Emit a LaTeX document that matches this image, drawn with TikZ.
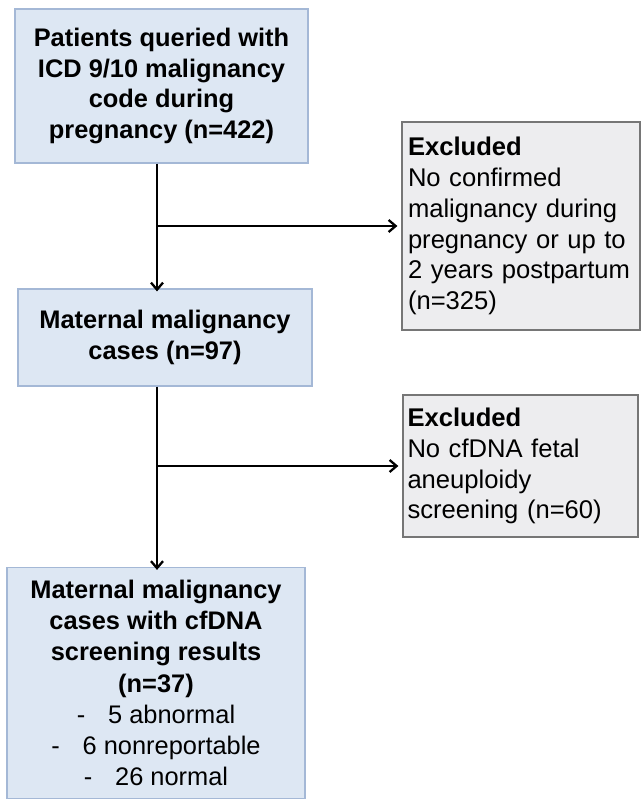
\documentclass[tikz,border=0pt]{standalone}
\usepackage{fontspec}
\setmainfont{Liberation Sans}
\usetikzlibrary{arrows.meta}
\definecolor{boxblue}{RGB}{221,231,243}
\definecolor{edgeblue}{RGB}{164,184,214}
\definecolor{boxgray}{RGB}{237,237,239}
\definecolor{edgegray}{RGB}{118,118,118}
\tikzset{
  stagebox/.style={draw=edgeblue, fill=boxblue, line width=1.2pt, inner sep=0pt,
    align=center, font=\fontsize{25.4}{30.8}\selectfont\bfseries},
  exclbox/.style={draw=edgegray, fill=boxgray, line width=1.2pt, inner sep=0pt,
    align=left, text width=226pt, font=\fontsize{25.6}{30.8}\selectfont},
  flow/.style={line width=2.3pt, -{Straight Barb[length=7pt,width=12pt,line width=2.3pt]}},
}
\begin{document}
\begin{tikzpicture}[x=1pt, y=-1pt]
\useasboundingbox (0,0) rectangle (642,800);
\fill[white] (0,0) rectangle (642,800);

% main stages
\node[stagebox, minimum width=293pt, minimum height=154pt] (query) at (161.5,86)
  {Patients queried with\\ICD 9/10 malignancy\\code during\\pregnancy (n=422)};
\node[stagebox, minimum width=294pt, minimum height=97pt] (cases) at (165,337.5)
  {Maternal malignancy\\cases (n=97)};
\node[stagebox, minimum width=298pt, minimum height=231pt,
      font=\fontsize{25.4}{31.2}\selectfont\bfseries] (results) at (156,683)
  {Maternal malignancy\\cases with cfDNA\\screening results\\(n=37)\\
   {\mdseries -\hspace{0.9em}5 abnormal}\\
   {\mdseries -\hspace{0.9em}6 nonreportable}\\
   {\mdseries -\hspace{0.9em}26 normal}};

% exclusions
\node[exclbox, minimum width=238pt, minimum height=208pt] (excl1) at (521,226)
  {\textbf{Excluded}\\No confirmed\\malignancy during\\pregnancy or up to\\2 years postpartum\\(n=325)};
\node[exclbox, minimum width=235pt, minimum height=142pt] (excl2) at (520.5,466)
  {\textbf{Excluded}\\No cfDNA fetal\\aneuploidy\\screening (n=60)};

% trunk line positions
\coordinate (trunk) at (157,0);

\draw[flow] (query.south -| trunk) -- ([yshift=-3pt]cases.north -| trunk);
\draw[flow] (excl1.west -| trunk) -- ([xshift=-4pt]excl1.west);
\draw[flow] (cases.south -| trunk) -- ([yshift=-3pt]results.north -| trunk);
\draw[flow] (excl2.west -| trunk) -- ([xshift=-4pt]excl2.west);
\end{tikzpicture}
\end{document}
